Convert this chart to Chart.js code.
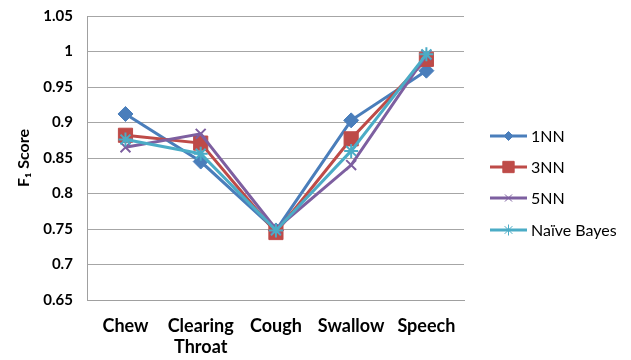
<!DOCTYPE html>
<html>
<head>
<meta charset="utf-8">
<script src="https://cdn.jsdelivr.net/npm/chart.js@4"></script>
<style>
html, body { margin: 0; padding: 0; background: #fff; }
#wrap { width: 631px; height: 360px; }
</style>
</head>
<body>
<div id="wrap"><canvas id="grafica"></canvas></div>
<script>
/* DATOS */
const categorias = ['Chew', ['Clearing', 'Throat'], 'Cough', 'Swallow', 'Speech'];
const nn1 = [0.912, 0.845, 0.748, 0.903, 0.973];
const nn3 = [0.882, 0.871, 0.745, 0.877, 0.989];
const nn5 = [0.865, 0.884, 0.750, 0.840, 0.995];
const bayes = [0.876, 0.856, 0.748, 0.860, 0.996];
const series = ['1NN', '3NN', '5NN', 'Naïve Bayes'];
const yTicks = [0.65, 0.7, 0.75, 0.8, 0.85, 0.9, 0.95, 1, 1.05];

const colores = ['#4a7ebb', '#be4b48', '#7d5fa0', '#4bacc6'];
const marcas = ['rectRot', 'rect', 'crossRot', 'star'];
const radios = [7.5, 10, 7, 7];
const radiosLeyenda = [4.5, 8, 5, 5.5];

const fuente = 'Lato, "Open Sans", sans-serif';

function serie(i, valores) {
  return {
    label: series[i],
    data: valores,
    borderColor: colores[i],
    backgroundColor: colores[i],
    borderWidth: 3,
    pointStyle: marcas[i],
    pointRadius: radios[i],
    pointBorderWidth: i >= 2 ? 2 : 1,
    pointBorderColor: colores[i],
    pointBackgroundColor: colores[i],
    tension: 0,
    order: 4 - i
  };
}

/* LEYENDA A LA DERECHA */
const leyenda = {
  id: 'leyenda',
  afterDraw(chart) {
    const c = chart.ctx;
    const x0 = 490, x1 = 527;
    const filas = [136, 167, 198, 230];
    chart.data.datasets.forEach((ds, i) => {
      const y = filas[i];
      c.save();
      c.strokeStyle = ds.borderColor;
      c.lineWidth = 3;
      c.beginPath();
      c.moveTo(x0, y);
      c.lineTo(x1, y);
      c.stroke();
      c.fillStyle = ds.backgroundColor;
      c.strokeStyle = ds.borderColor;
      c.lineWidth = 1;
      Chart.helpers.drawPoint(c, { pointStyle: ds.pointStyle, radius: radiosLeyenda[i], rotation: 0, borderWidth: 1 }, (x0 + x1) / 2, y);
      c.fillStyle = '#000';
      c.font = '16px ' + fuente;
      c.textBaseline = 'middle';
      c.fillText(ds.label, 531, y + 1);
      c.restore();
    });
  }
};

const ctx1 = document.getElementById('grafica');

new Chart(ctx1, {
  type: 'line',
  data: {
    labels: categorias,
    datasets: [serie(0, nn1), serie(1, nn3), serie(2, nn5), serie(3, bayes)]
  },
  options: {
    responsive: true,
    maintainAspectRatio: false,
    animation: false,
    layout: { padding: { top: 16, right: 167, left: 14, bottom: 0 } },
    plugins: {
      legend: { display: false },
      tooltip: { enabled: false }
    },
    scales: {
      x: {
        offset: true,
        afterFit(axis) { axis.height = 60; },
        grid: { display: false, drawTicks: false },
        border: { display: true, color: '#a0a0a0', width: 1 },
        ticks: {
          color: '#000',
          font: { family: fuente, size: 18, weight: 'bold', lineHeight: 1.2 },
          padding: 15,
          maxRotation: 0,
          autoSkip: false
        }
      },
      y: {
        min: 0.65,
        max: 1.05,
        afterBuildTicks(axis) { axis.ticks = yTicks.map(v => ({ value: v })); },
        grid: { color: '#a6a6a6', lineWidth: 1, drawTicks: true, tickLength: 13, tickColor: 'rgba(0,0,0,0)' },
        border: { display: true, color: '#a0a0a0', width: 1 },
        ticks: {
          color: '#000',
          font: { family: fuente, size: 15, weight: 'bold' },
          padding: 2,
          callback: v => String(Number(v.toFixed(2)))
        },
        title: {
          display: true,
          text: 'F₁ Score',
          color: '#000',
          font: { family: fuente, size: 16, weight: 'bold' },
          padding: { top: 0, bottom: 8 }
        }
      }
    }
  },
  plugins: [leyenda]
});
</script>
</body>
</html>
